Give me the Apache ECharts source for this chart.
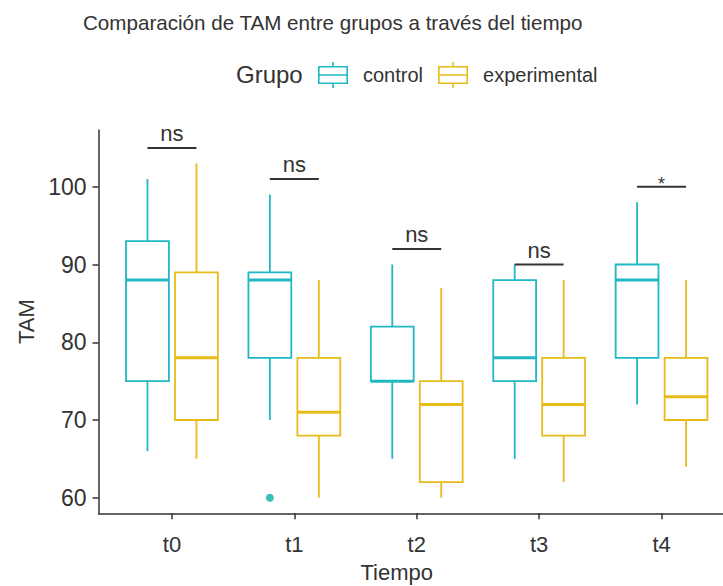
<!DOCTYPE html>
<html><head><meta charset="utf-8">
<script src="https://cdn.jsdelivr.net/npm/echarts@6/dist/echarts.min.js"></script>
<style>html,body{margin:0;padding:0;background:#fff}#c{width:723px;height:586px}</style>
</head><body><div id="c"></div>
<script>
// ---- data ----
const categories = ['t0', 't1', 't2', 't3', 't4'];
const groups = ['control', 'experimental'];
const controlMin    = [66, 70, 65, 65, 72];
const controlQ1     = [75, 78, 75, 75, 78];
const controlMedian = [88, 88, 75, 78, 88];
const controlQ3     = [93, 89, 82, 88, 90];
const controlMax    = [101, 99, 90, 90, 98];
const experimentalMin    = [65, 60, 60, 62, 64];
const experimentalQ1     = [70, 68, 62, 68, 70];
const experimentalMedian = [78, 71, 72, 72, 73];
const experimentalQ3     = [89, 78, 75, 78, 78];
const experimentalMax    = [103, 88, 87, 88, 88];
const controlOutlierCategory = ['t1'];
const controlOutlierValue    = [60];
const signifLabels = ['ns', 'ns', 'ns', 'ns', '*'];
const signifY      = [105, 101, 92, 90, 100];
const yTicks = [60, 70, 80, 90, 100];

// ---- style ----
const FONT = "'Liberation Sans', Arial, sans-serif";
const TEXT = '#333333';
const C_CONTROL = '#1FB8C3';
const C_EXP = '#E7BC1A';
const OFFSET = 0.2;
const BOX_W = 0.35;
const LW = 1.8, MED_LW = 3;

function rows(mins, q1s, meds, q3s, maxs) {
  return categories.map((c, i) => [i, mins[i], q1s[i], meds[i], q3s[i], maxs[i]]);
}

function boxRenderer(offset, color) {
  return function (params, api) {
    const x = api.value(0) + offset;
    const pMin = api.coord([x, api.value(1)]);
    const pQ1 = api.coord([x, api.value(2)]);
    const pMed = api.coord([x, api.value(3)]);
    const pQ3 = api.coord([x, api.value(4)]);
    const pMax = api.coord([x, api.value(5)]);
    const half = api.size([BOX_W, 0])[0] / 2;
    const cx = pMin[0];
    const ls = { stroke: color, lineWidth: LW, fill: null };
    return {
      type: 'group',
      children: [
        { type: 'line', shape: { x1: cx, y1: pMax[1], x2: cx, y2: pQ3[1] }, style: ls },
        { type: 'line', shape: { x1: cx, y1: pQ1[1], x2: cx, y2: pMin[1] }, style: ls },
        { type: 'rect', shape: { x: cx - half, y: pQ3[1], width: 2 * half, height: pQ1[1] - pQ3[1] },
          style: { stroke: color, lineWidth: LW, fill: 'none' } },
        { type: 'line', shape: { x1: cx - half, y1: pMed[1], x2: cx + half, y2: pMed[1] },
          style: { stroke: color, lineWidth: MED_LW } }
      ]
    };
  };
}

function signifRenderer(params, api) {
  const i = api.value(0);
  const p1 = api.coord([i - OFFSET, api.value(1)]);
  const p2 = api.coord([i + OFFSET, api.value(1)]);
  const label = signifLabels[params.dataIndex];
  const star = label === '*';
  return {
    type: 'group',
    children: [
      { type: 'line', shape: { x1: p1[0], y1: p1[1], x2: p2[0], y2: p2[1] },
        style: { stroke: '#333', lineWidth: 2 } },
      { type: 'text', style: {
          text: label, x: (p1[0] + p2[0]) / 2, y: star ? p1[1] + 6 : p1[1] - 3,
          align: 'center', verticalAlign: 'bottom',
          fontSize: star ? 18 : 22, fontFamily: FONT, fill: TEXT } }
    ]
  };
}

const BOX_ICON = 'path://M0,4H30V22H0Z M1.6,5.6V12.2H28.4V5.6Z M1.6,13.8V20.4H28.4V13.8Z M14.2,0H15.8V4H14.2Z M14.2,22H15.8V26H14.2Z';

const chart = echarts.init(document.getElementById('c'), null, { renderer: 'svg' });
chart.setOption({
  animation: false,
  backgroundColor: '#ffffff',
  color: [C_CONTROL, C_EXP],
  title: {
    text: 'Comparación de TAM entre grupos a través del tiempo',
    left: 83, top: 12, padding: 0,
    textStyle: { fontFamily: FONT, fontSize: 20.6, fontWeight: 'normal', color: TEXT }
  },
  graphic: [{
    type: 'text', left: 236, top: 62,
    style: { text: 'Grupo', fontFamily: FONT, fontSize: 24, fill: TEXT }
  }],
  legend: {
    left: 318, top: 62, padding: 0,
    itemWidth: 30, itemHeight: 26, itemGap: 15,
    textStyle: { fontFamily: FONT, fontSize: 20, color: TEXT, padding: [0, 0, 0, 10] },
    data: [
      { name: 'control', icon: BOX_ICON, itemStyle: { color: C_CONTROL, borderWidth: 0 } },
      { name: 'experimental', icon: BOX_ICON, itemStyle: { color: C_EXP, borderWidth: 0 } }
    ]
  },
  grid: { left: 98.5, top: 130, width: 636.5, height: 383.3, outerBoundsMode: 'none', containLabel: false },
  xAxis: {
    type: 'value', min: -0.6, max: 4.6,
    name: 'Tiempo', nameLocation: 'middle', nameGap: 48,
    nameTextStyle: { fontFamily: FONT, fontSize: 22, color: TEXT, padding: [0, 40, 0, 0] },
    splitLine: { show: false },
    axisLine: { show: true, onZero: false, lineStyle: { color: '#333', width: 1.5 } },
    axisTick: { show: true, length: 6, lineStyle: { color: '#333', width: 1.5 },
      customValues: categories.map((c, i) => i) },
    axisLabel: { fontFamily: FONT, fontSize: 22, color: TEXT, margin: 20,
      customValues: categories.map((c, i) => i),
      formatter: v => categories[Math.round(v)] }
  },
  yAxis: {
    type: 'value', min: 58, max: 107.3,
    name: 'TAM', nameLocation: 'middle', nameGap: 58, nameRotate: 90,
    nameTextStyle: { fontFamily: FONT, fontSize: 22, color: TEXT },
    splitLine: { show: false },
    axisLine: { show: true, onZero: false, lineStyle: { color: '#333', width: 1.5 } },
    axisTick: { show: true, length: 6, lineStyle: { color: '#333', width: 1.5 }, customValues: yTicks },
    axisLabel: { fontFamily: FONT, fontSize: 23, color: TEXT, margin: 12, customValues: yTicks }
  },
  series: [
    {
      name: 'control', type: 'custom',
      renderItem: boxRenderer(-OFFSET, C_CONTROL),
      encode: { x: 0, y: [1, 2, 3, 4, 5] },
      data: rows(controlMin, controlQ1, controlMedian, controlQ3, controlMax)
    },
    {
      name: 'experimental', type: 'custom',
      renderItem: boxRenderer(OFFSET, C_EXP),
      encode: { x: 0, y: [1, 2, 3, 4, 5] },
      data: rows(experimentalMin, experimentalQ1, experimentalMedian, experimentalQ3, experimentalMax)
    },
    {
      name: 'control outlier', type: 'scatter',
      symbolSize: 8, itemStyle: { color: '#0AADA8' },
      data: controlOutlierCategory.map((c, k) => [categories.indexOf(c) - OFFSET, controlOutlierValue[k]])
    },
    {
      name: 'signif', type: 'custom',
      renderItem: signifRenderer,
      encode: { x: 0, y: 1 },
      data: signifY.map((y, i) => [i, y])
    }
  ]
});
</script></body></html>
